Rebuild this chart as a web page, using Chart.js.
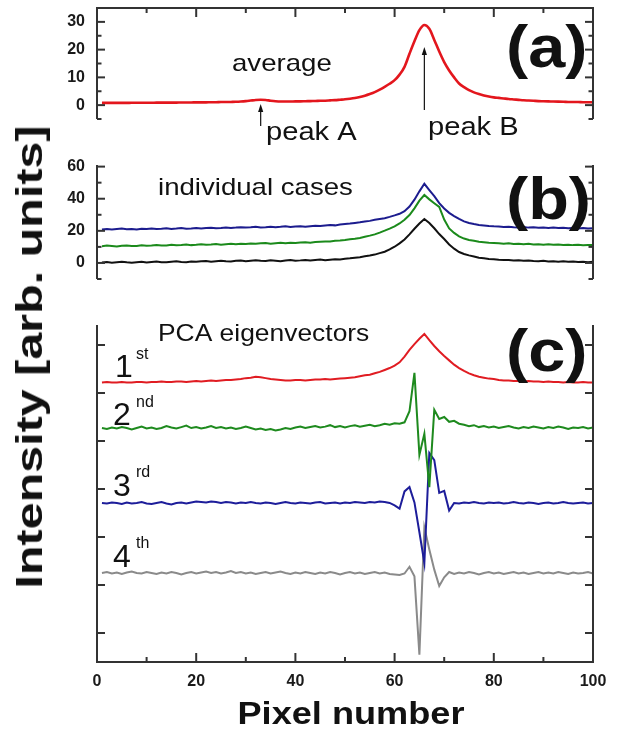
<!DOCTYPE html>
<html>
<head>
<meta charset="utf-8">
<title>Average, individual and PCA spectra</title>
<script src="https://cdn.jsdelivr.net/npm/chart.js@4.4.1/dist/chart.umd.min.js"></script>
<style>
  html, body { margin: 0; padding: 0; background: #fff; }
  #fig { position: relative; width: 622px; height: 729px; overflow: hidden; }
  #fig canvas { position: absolute; left: 0; }
  #ytitle {
    position: absolute; left: 30px; top: 357px;
    transform: translate(-50%, -50%) rotate(-90deg) scaleX(1.31);
    white-space: nowrap; line-height: 1;
    font: bold 37px "Liberation Sans", Arial, sans-serif; color: #111;
  }
</style>
</head>
<body>
<div id="fig">
  <canvas id="panelA" width="622" height="150" style="top:0px"></canvas>
  <canvas id="panelB" width="622" height="170" style="top:140px"></canvas>
  <canvas id="panelC" width="622" height="419" style="top:310px"></canvas>
  <div id="ytitle">Intensity [arb. units]</div>
</div>
<script>
// pixel index (x axis)
const pixels = [1,2,3,4,5,6,7,8,9,10,11,12,13,14,15,16,17,18,19,20,
  21,22,23,24,25,26,27,28,29,30,31,32,33,34,35,36,37,38,39,40,
  41,42,43,44,45,46,47,48,49,50,51,52,53,54,55,56,57,58,59,60,
  61,62,63,64,65,66,67,68,69,70,71,72,73,74,75,76,77,78,79,80,
  81,82,83,84,85,86,87,88,89,90,91,92,93,94,95,96,97,98,99,100];

// (a) average spectrum
const avgSpectrum = [0.8,0.8,0.8,0.8,0.8,0.8,0.85,0.85,0.85,0.85,
  0.85,0.9,0.9,0.9,0.9,0.9,0.95,0.95,0.95,1.0,
  1.0,1.0,1.05,1.05,1.1,1.1,1.15,1.2,1.3,1.45,
  1.65,1.85,1.95,1.85,1.6,1.4,1.3,1.3,1.3,1.35,
  1.35,1.4,1.45,1.5,1.55,1.6,1.7,1.8,1.95,2.1,
  2.3,2.55,2.9,3.4,4.0,4.7,5.6,6.6,7.7,9.0,
  11.0,13.8,18.5,23.0,27.0,28.9,27.5,23.5,19.3,15.5,
  12.5,10.0,7.8,6.5,5.4,4.6,4.0,3.5,3.1,2.8,
  2.6,2.4,2.2,2.05,1.9,1.75,1.65,1.55,1.45,1.4,
  1.35,1.3,1.25,1.2,1.15,1.1,1.1,1.05,1.05,1.0];

// (b) individual cases
const caseBlack = [0.3,0.6,0.2,0.5,0.8,0.4,0.1,0.5,0.7,0.3,
  0.6,0.9,0.5,0.4,0.8,1.0,0.6,0.5,0.9,0.7,
  1.0,1.2,0.8,1.1,1.4,1.0,0.9,1.3,1.5,1.1,
  1.4,1.7,1.3,1.2,1.6,1.4,1.1,1.5,1.8,1.4,
  1.6,1.9,1.5,1.8,2.1,1.7,2.0,2.3,2.2,2.6,
  2.9,3.3,3.6,4.1,4.6,5.2,6.1,7.0,8.4,10.1,
  12.2,14.6,17.8,21.3,24.6,27.4,24.9,21.6,18.0,14.9,
  11.5,8.9,6.8,5.6,4.7,4.0,3.3,2.9,2.5,2.3,
  2.0,1.8,1.9,1.5,1.6,1.3,1.5,1.2,1.0,1.3,
  0.9,1.1,0.8,1.0,0.7,0.9,0.6,0.8,0.5,0.7];
const caseGreen = [10.4,10.8,10.5,10.2,10.7,10.9,10.5,10.6,11.0,10.7,
  10.9,11.2,10.8,10.9,11.3,11.0,11.2,11.5,11.1,11.3,
  11.6,11.3,11.5,11.8,11.4,11.7,11.9,11.6,12.0,11.8,
  12.1,11.9,12.2,12.4,12.0,12.3,12.5,12.2,12.6,12.4,
  12.7,12.9,12.6,13.0,13.2,13.4,13.3,13.8,14.0,14.3,
  14.8,15.1,15.6,16.3,17.0,17.8,18.9,20.1,21.4,22.8,
  24.6,26.9,29.8,34.0,38.8,42.3,39.6,37.2,34.9,27.0,
  21.5,18.7,16.6,15.2,14.3,13.8,13.2,12.9,12.6,12.4,
  12.2,12.0,12.3,11.8,12.0,11.7,11.9,11.5,11.7,11.4,
  11.6,11.3,11.5,11.2,11.4,11.1,11.3,11.0,11.2,11.1];
const caseBlue = [20.9,21.2,20.8,21.1,21.4,21.0,21.2,20.9,21.3,21.1,
  21.4,21.1,21.3,21.6,21.2,21.4,21.7,21.3,21.5,21.8,
  21.5,21.7,21.9,21.6,21.8,22.1,21.8,22.0,22.3,22.0,
  22.2,22.5,22.1,22.3,22.6,22.3,22.5,22.8,22.4,22.7,
  22.9,22.6,22.9,23.2,23.0,23.3,23.6,23.4,23.9,24.2,
  24.5,24.9,25.3,25.8,26.2,26.9,27.4,27.9,28.7,29.6,
  30.6,32.2,35.1,39.4,44.6,49.3,45.4,41.6,37.3,33.9,
  31.2,29.2,27.4,25.9,24.9,24.2,23.6,23.3,23.0,22.8,
  22.7,22.4,22.6,22.3,22.1,22.4,22.0,22.2,21.9,22.1,
  21.8,22.0,21.7,21.9,21.6,21.8,21.5,21.7,21.4,21.6];

// (c) PCA eigenvectors, vertically offset (arb. units, 1 = one tick)
const pc1 = [5.22,5.23,5.22,5.22,5.23,5.22,5.22,5.23,5.23,5.22,
  5.23,5.23,5.24,5.23,5.23,5.24,5.24,5.23,5.24,5.25,
  5.24,5.25,5.26,5.25,5.26,5.27,5.27,5.28,5.29,5.31,
  5.32,5.34,5.33,5.31,5.29,5.28,5.27,5.26,5.26,5.27,
  5.27,5.26,5.27,5.28,5.28,5.29,5.28,5.29,5.30,5.31,
  5.32,5.33,5.35,5.37,5.38,5.41,5.44,5.48,5.52,5.57,
  5.64,5.76,5.90,6.02,6.13,6.23,6.10,5.98,5.87,5.77,
  5.68,5.59,5.52,5.46,5.41,5.37,5.34,5.32,5.30,5.29,
  5.27,5.26,5.26,5.25,5.25,5.24,5.25,5.24,5.24,5.23,
  5.24,5.23,5.23,5.22,5.23,5.22,5.22,5.23,5.22,5.22];
const pc2 = [4.27,4.25,4.28,4.26,4.29,4.27,4.24,4.27,4.30,4.26,
  4.28,4.25,4.27,4.31,4.28,4.26,4.29,4.32,4.27,4.29,
  4.26,4.28,4.31,4.27,4.29,4.26,4.28,4.25,4.27,4.30,
  4.27,4.24,4.26,4.23,4.25,4.22,4.24,4.27,4.25,4.28,
  4.30,4.27,4.29,4.31,4.28,4.30,4.33,4.29,4.31,4.28,
  4.31,4.33,4.30,4.32,4.34,4.31,4.33,4.36,4.34,4.37,
  4.36,4.39,4.62,5.42,3.71,4.15,3.04,4.65,4.46,4.50,
  4.40,4.42,4.36,4.34,4.31,4.33,4.29,4.31,4.28,4.30,
  4.27,4.29,4.31,4.28,4.26,4.29,4.27,4.30,4.28,4.26,
  4.29,4.27,4.30,4.28,4.25,4.28,4.27,4.29,4.26,4.28];
const pc3 = [2.71,2.70,2.72,2.71,2.69,2.72,2.70,2.71,2.73,2.70,
  2.69,2.71,2.73,2.70,2.68,2.71,2.72,2.70,2.72,2.74,
  2.73,2.72,2.74,2.73,2.71,2.73,2.72,2.70,2.72,2.71,
  2.73,2.71,2.70,2.72,2.71,2.69,2.71,2.73,2.71,2.70,
  2.72,2.71,2.70,2.72,2.73,2.70,2.71,2.72,2.70,2.72,
  2.71,2.73,2.72,2.71,2.73,2.72,2.74,2.73,2.71,2.66,
  2.59,2.95,3.04,2.72,2.10,1.46,3.75,3.60,2.92,2.96,
  2.55,2.71,2.70,2.72,2.71,2.73,2.71,2.70,2.72,2.71,
  2.72,2.70,2.71,2.73,2.71,2.70,2.72,2.71,2.69,2.71,
  2.72,2.70,2.71,2.73,2.71,2.70,2.71,2.72,2.70,2.71];
const pc4 = [1.25,1.27,1.24,1.26,1.23,1.26,1.28,1.25,1.24,1.27,
  1.25,1.23,1.26,1.24,1.27,1.25,1.22,1.25,1.27,1.24,
  1.26,1.28,1.25,1.27,1.24,1.26,1.29,1.25,1.27,1.24,
  1.26,1.23,1.25,1.27,1.24,1.26,1.28,1.25,1.23,1.26,
  1.24,1.27,1.25,1.23,1.26,1.24,1.27,1.25,1.22,1.25,
  1.27,1.24,1.26,1.23,1.25,1.27,1.24,1.26,1.23,1.22,
  1.21,1.24,1.38,1.18,-0.45,2.20,1.74,1.32,0.98,1.16,
  1.27,1.23,1.26,1.24,1.27,1.25,1.22,1.25,1.27,1.24,
  1.26,1.23,1.25,1.27,1.24,1.26,1.23,1.25,1.27,1.24,
  1.26,1.24,1.27,1.25,1.23,1.26,1.24,1.25,1.27,1.24];

// tick labels
const xTickLabels = [0, 20, 40, 60, 80, 100];
const yTicksA = [0, 10, 20, 30];
const yTicksB = [0, 20, 40, 60];

const FONT = "'Liberation Sans', Arial, sans-serif";
Chart.defaults.font.family = FONT;
Chart.defaults.color = '#1a1a1a';

// frame: axis lines with inward ticks
function makeFrame(cfg) {
  return {
    id: 'frame',
    afterDatasetsDraw(chart) {
      const ctx = chart.ctx, a = chart.chartArea;
      const xs = chart.scales.x, ys = chart.scales.y;
      ctx.save();
      ctx.strokeStyle = '#333';
      ctx.lineWidth = 2;
      const seg = (x1, y1, x2, y2) => { ctx.beginPath(); ctx.moveTo(x1, y1); ctx.lineTo(x2, y2); ctx.stroke(); };
      seg(a.left, a.top, a.left, a.bottom);
      seg(a.right, a.top, a.right, a.bottom);
      ys.ticks.forEach(t => {
        const py = ys.getPixelForValue(t.value);
        const len = cfg.yMajor(t.value) ? 8 : 4.5;
        seg(a.left, py, a.left + len, py);
        seg(a.right, py, a.right - len, py);
      });
      if (cfg.top || cfg.bottom) {
        const yy = cfg.top ? a.top : a.bottom;
        const dir = cfg.top ? 1 : -1;
        seg(a.left - 1, yy, a.right + 1, yy);
        xs.ticks.forEach(t => {
          const px = xs.getPixelForValue(t.value);
          const len = t.value % 20 === 0 ? 9 : 5;
          seg(px, yy, px, yy + dir * len);
        });
      }
      ctx.restore();
    }
  };
}

// text annotations and arrows (page coordinates, shifted by the canvas offset)
function makeNotes(offsetY, items, arrows) {
  return {
    id: 'notes',
    afterDraw(chart) {
      const ctx = chart.ctx, xs = chart.scales.x;
      ctx.save();
      ctx.fillStyle = '#111';
      ctx.strokeStyle = '#111';
      items.forEach(it => {
        ctx.save();
        ctx.font = it.font + ' ' + FONT;
        ctx.textAlign = it.align || 'left';
        ctx.textBaseline = 'alphabetic';
        ctx.translate(it.x, it.y - offsetY);
        ctx.scale(it.sx || 1, 1);
        ctx.fillText(it.text, 0, 0);
        ctx.restore();
      });
      (arrows || []).forEach(ar => {
        const px = xs.getPixelForValue(ar.at);
        const y1 = ar.from - offsetY, y2 = ar.to - offsetY;
        ctx.lineWidth = 1.2;
        ctx.beginPath(); ctx.moveTo(px, y1); ctx.lineTo(px, y2 + 5); ctx.stroke();
        ctx.beginPath(); ctx.moveTo(px, y2); ctx.lineTo(px - 2.6, y2 + 8); ctx.lineTo(px + 2.6, y2 + 8); ctx.closePath(); ctx.fill();
      });
      ctx.restore();
    }
  };
}

const line = (data, color, width) => ({
  data: data, borderColor: color, borderWidth: width,
  pointRadius: 0, fill: false, tension: 0
});

const hiddenX = {
  type: 'linear', min: 0, max: 100,
  ticks: { stepSize: 10, display: false },
  grid: { display: false, drawTicks: false }, border: { display: false },
  afterFit(s) { s.height = 0; }
};

// fixed-width y axis, no extra padding for the end labels
const fitY = s => { s.width = 97; s.paddingTop = 0; s.paddingBottom = 0; };

const yLabelFont = { size: 16, weight: 'bold' };

// (a)
new Chart(document.getElementById('panelA'), {
  type: 'line',
  data: { labels: pixels, datasets: [
    Object.assign(line(avgSpectrum, '#e3161d', 2.6), { tension: 0.4, cubicInterpolationMode: 'monotone' })
  ] },
  options: {
    responsive: false, animation: false, events: [],
    layout: { padding: { left: 0, right: 29, top: 8, bottom: 31 } },
    plugins: { legend: { display: false }, tooltip: { enabled: false } },
    scales: {
      x: hiddenX,
      y: {
        min: -5, max: 35,
        ticks: { stepSize: 5, autoSkip: false, includeBounds: false, padding: 12, font: yLabelFont, color: '#1a1a1a',
          callback: v => yTicksA.includes(v) ? String(v) : '' },
        grid: { display: false, drawTicks: false }, border: { display: false },
        afterFit: fitY
      }
    }
  },
  plugins: [
    makeFrame({ top: true, yMajor: v => v % 10 === 0 }),
    makeNotes(0, [
      { text: 'average', x: 232, y: 71, font: '24px', sx: 1.15 },
      { text: 'peak A', x: 266, y: 140, font: '26px', sx: 1.12 },
      { text: 'peak B', x: 428, y: 135, font: '26px', sx: 1.12 },
      { text: '(a)', x: 506, y: 67, font: 'bold 60px', sx: 1.11 }
    ], [
      { at: 33, from: 126, to: 104 },
      { at: 66, from: 110, to: 47 }
    ])
  ]
});

// (b)
new Chart(document.getElementById('panelB'), {
  type: 'line',
  data: { labels: pixels, datasets: [
    line(caseBlack, '#111111', 2),
    line(caseGreen, '#1b8a1b', 2),
    line(caseBlue, '#1c1c8e', 2)
  ] },
  options: {
    responsive: false, animation: false, events: [],
    layout: { padding: { left: 0, right: 29, top: 25, bottom: 31 } },
    plugins: { legend: { display: false }, tooltip: { enabled: false } },
    scales: {
      x: hiddenX,
      y: {
        min: -10, max: 61,
        ticks: { stepSize: 10, autoSkip: false, includeBounds: false, padding: 12, font: yLabelFont, color: '#1a1a1a',
          callback: v => yTicksB.includes(v) ? String(v) : '' },
        grid: { display: false, drawTicks: false }, border: { display: false },
        afterFit: fitY
      }
    }
  },
  plugins: [
    makeFrame({ yMajor: v => v % 20 === 0 }),
    makeNotes(140, [
      { text: 'individual cases', x: 158, y: 195, font: '24px', sx: 1.15 },
      { text: '(b)', x: 506, y: 219, font: 'bold 60px', sx: 1.11 }
    ])
  ]
});

// (c)
new Chart(document.getElementById('panelC'), {
  type: 'line',
  data: { labels: pixels, datasets: [
    line(pc1, '#e01c22', 2),
    line(pc2, '#1e8a1e', 2),
    line(pc3, '#1d1d9a', 2),
    line(pc4, '#8a8a8a', 2)
  ] },
  options: {
    responsive: false, animation: false, events: [],
    layout: { padding: { left: 0, right: 29, top: 15, bottom: 0 } },
    plugins: { legend: { display: false }, tooltip: { enabled: false } },
    scales: {
      x: {
        type: 'linear', min: 0, max: 100,
        ticks: { stepSize: 10, autoSkip: false, maxRotation: 0, padding: 10, font: yLabelFont, color: '#1a1a1a',
          callback: v => xTickLabels.includes(v) ? String(v) : '' },
        grid: { display: false, drawTicks: false }, border: { display: false },
        afterFit(s) { s.height = 67; }
      },
      y: {
        min: -0.604, max: 6.417,
        ticks: { stepSize: 1, display: false, includeBounds: false },
        grid: { display: false, drawTicks: false }, border: { display: false },
        afterFit: fitY
      }
    }
  },
  plugins: [
    makeFrame({ bottom: true, yMajor: () => true }),
    makeNotes(310, [
      { text: 'PCA eigenvectors', x: 158, y: 341, font: '24px', sx: 1.1 },
      { text: '(c)', x: 506, y: 371, font: 'bold 60px', sx: 1.11 },
      { text: '1', x: 115, y: 377, font: '32px' },
      { text: 'st', x: 136, y: 359, font: '16px' },
      { text: '2', x: 113, y: 425, font: '32px' },
      { text: 'nd', x: 136, y: 407, font: '16px' },
      { text: '3', x: 113, y: 496, font: '32px' },
      { text: 'rd', x: 136, y: 477, font: '16px' },
      { text: '4', x: 113, y: 567, font: '32px' },
      { text: 'th', x: 136, y: 548, font: '16px' },
      { text: 'Pixel number', x: 351, y: 724, font: 'bold 32px', sx: 1.13, align: 'center' }
    ])
  ]
});
</script>
</body>
</html>
